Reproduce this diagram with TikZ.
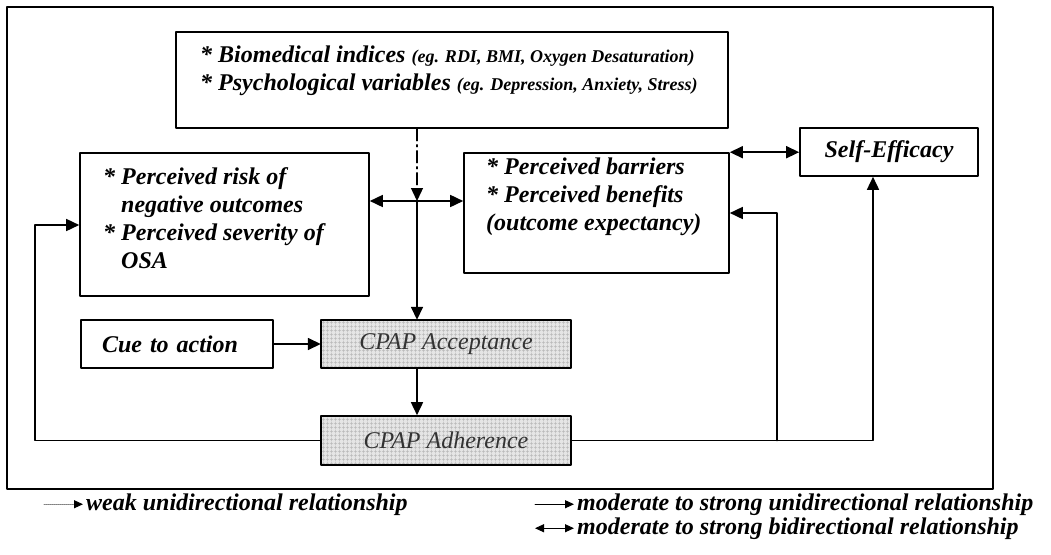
\documentclass[tikz,border=0pt]{standalone}
\usepackage{fontspec}
\setmainfont{Liberation Serif}
\usetikzlibrary{arrows.meta, patterns.meta}

\begin{document}
\begin{tikzpicture}[x=1pt, y=-1pt, line cap=round, line join=round,
  box/.style={draw, line width=1.6pt, inner sep=0pt},
  txt/.style={font=\fontsize{24}{28}\selectfont\bfseries\itshape, align=left, inner sep=0pt},
  cpap/.style={box, preaction={fill=black!10},
    pattern={Hatch[angle=0, distance=4pt, line width=0.4pt]}, pattern color=black!28,
    text=black!80, font=\fontsize{24}{29}\selectfont\itshape},
  one/.style={-{Triangle[length=13pt,width=12pt]}, line width=1.6pt},
  both/.style={{Triangle[length=13pt,width=12pt]}-{Triangle[length=13pt,width=12pt]}, line width=1.6pt},
  leg/.style={font=\fontsize{24}{28}\selectfont\bfseries\itshape, inner sep=0pt, anchor=base west},
  legarr/.style={line width=1pt, shorten >=3pt}]

  \useasboundingbox (0,0) rectangle (1051,554);

  % cornice
  \draw[line width=1.6pt] (7,7) rectangle (993,489);

  % riquadri
  \node[box, minimum width=552pt, minimum height=96pt] (bio) at (452,80) {};
  \node[txt, anchor=west] (biotxt) at (200,71)
    {* Biomedical indices {\fontsize{18}{22}\selectfont(eg. RDI, BMI, Oxygen Desaturation)}\\
     {*} Psychological variables {\fontsize{18}{22}\selectfont(eg. Depression, Anxiety, Stress)}};

  \node[box, minimum width=289pt, minimum height=143pt] (risk) at (224.5,224.5) {};
  \node[txt, anchor=west] (risktxt) at (103,218)
    {* Perceived risk of\\ \hspace*{18pt}negative outcomes\\ {*} Perceived severity of\\ \hspace*{18pt}OSA};

  \node[box, minimum width=265pt, minimum height=120pt] (bar) at (596.5,213) {};
  \node[txt, anchor=west] (bartxt) at (486,197)
    {* Perceived barriers\\ {*} Perceived benefits\\ (outcome expectancy)};

  \node[box, txt, minimum width=178pt, minimum height=48pt] (self) at (889,152) {Self-Efficacy};
  \node[box, txt, minimum height=48pt, text width=150pt, inner xsep=21pt] (cue) at (177,344) {Cue to action};
  \node[cpap, minimum width=250pt, minimum height=48pt] (acc) at (446,344) {CPAP Acceptance};
  \node[cpap, minimum width=250pt, minimum height=49pt] (adh) at (446,440.5) {CPAP Adherence};

  % punti di snodo
  \coordinate (jn) at (417,201);
  \coordinate (lft) at (35,225);
  \coordinate (brn) at (777,441);
  \coordinate (rgt) at (873,441);

  % frecce
  \draw[one, line width=1.3pt, dash pattern=on 12pt off 4pt on 2pt off 4pt] (bio.south -| jn) -- (jn);
  \draw[both] (risk.east |- jn) -- (bar.west |- jn);
  \draw[one] (jn) -- (acc.north -| jn);
  \draw[one] (cue) -- (acc);
  \draw[one] (acc.south -| jn) -- (adh.north -| jn);
  \draw[one] (adh.west) -| (lft) -- (risk.west |- lft);
  \draw[one] (adh.east) -- (adh.east -| rgt) -- (rgt |- self.south);
  \draw[one] (adh.east -| brn) |- (bar.east);
  \draw[both] (bar.north east) -- (self.west |- bar.north east);

  % legenda
  \node[leg] (lweak) at (86,510) {weak unidirectional relationship};
  \node[leg] (lone) at (577,510) {moderate to strong unidirectional relationship};
  \node[leg] (lboth) at (577,534) {moderate to strong bidirectional relationship};
  \draw[legarr, black!50, densely dotted, -{Triangle[length=9pt,width=8pt,black]}]
    ([xshift=-42pt]lweak.west) -- (lweak.west);
  \draw[legarr, -{Triangle[length=9pt,width=8pt]}] ([xshift=-42pt]lone.west) -- (lone.west);
  \draw[legarr, {Triangle[length=9pt,width=8pt]}-{Triangle[length=9pt,width=8pt]}]
    ([xshift=-42pt]lboth.west) -- (lboth.west);
\end{tikzpicture}
\end{document}
